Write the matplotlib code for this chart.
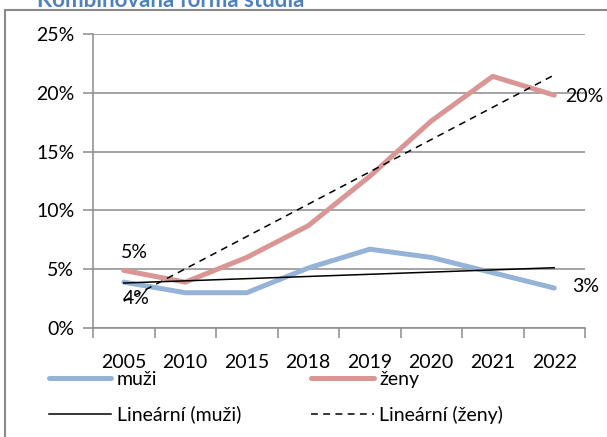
import matplotlib.pyplot as plt
import matplotlib.patches as mpatches
from matplotlib.ticker import FixedLocator, FuncFormatter
import numpy as np

plt.rcParams['font.family'] = ['Lato', 'DejaVu Sans']

# data (%)
years = ['2005', '2010', '2015', '2018', '2019', '2020', '2021', '2022']
muzi = [3.9, 3.0, 3.0, 5.1, 6.7, 6.0, 4.7, 3.4]
zeny = [4.9, 3.9, 6.0, 8.7, 12.9, 17.6, 21.4, 19.8]

BLUE = '#95b3d7'
RED = '#d99694'
GRID = '#8c8c8c'
FS = 14

fig = plt.figure(figsize=(6.07, 4.37), dpi=100, facecolor='white')
ax = fig.add_axes([93 / 607, 1 - 328 / 437, 492 / 607, 294 / 437])

x = np.arange(len(years))

# linear trends
pm = np.polyfit(x, muzi, 1)
pz = np.polyfit(x, zeny, 1)

l_m, = ax.plot(x, muzi, color=BLUE, lw=3.6, solid_capstyle='round',
               solid_joinstyle='round', label='muži', zorder=3)
l_z, = ax.plot(x, zeny, color=RED, lw=3.6, solid_capstyle='round',
               solid_joinstyle='round', label='ženy', zorder=3)
t_m, = ax.plot(x, np.polyval(pm, x), color='black', lw=1.1,
               label='Lineární (muži)', zorder=4)
t_z, = ax.plot(x, np.polyval(pz, x), color='black', lw=1.1, ls=(0, (4.5, 3.5)),
               label='Lineární (ženy)', zorder=4)

# data labels
lab = dict(fontsize=FS, color='black', textcoords='offset points', zorder=5)
ax.annotate('5%', (x[0], zeny[0]), xytext=(-2, 13), ha='left', va='center', **lab)
ax.annotate('4%', (x[0], muzi[0]), xytext=(-1, -11.5), ha='left', va='center', **lab)
ax.annotate('20%', (x[-1], zeny[-1]), xytext=(8, -1), ha='left', va='center', **lab)
ax.annotate('3%', (x[-1], muzi[-1]), xytext=(13, 1), ha='left', va='center', **lab)

ax.set_xlim(-0.5, len(years) - 0.5)
ax.set_ylim(0, 25)
ax.set_yticks(np.arange(0, 26, 5))
ax.yaxis.set_major_formatter(FuncFormatter(lambda v, _: f'{v:.0f}%'))
ax.grid(axis='y', color=GRID, lw=1.1)
ax.set_axisbelow(True)

ax.xaxis.set_major_locator(FixedLocator(np.arange(-0.5, len(years), 1.0)))
ax.xaxis.set_major_formatter(FuncFormatter(lambda v, _: ''))
ax.set_xticks(x, minor=True)
ax.set_xticklabels(years, minor=True)
ax.tick_params(axis='x', which='major', length=7, width=1.1, color=GRID, direction='out')
ax.tick_params(axis='x', which='minor', length=0, pad=18.5, labelsize=FS)
ax.tick_params(axis='y', length=7, width=1.1, color=GRID, pad=6.5, labelsize=FS)

for s in ['top', 'right']:
    ax.spines[s].set_visible(False)
for s in ['left', 'bottom']:
    ax.spines[s].set_color(GRID)
    ax.spines[s].set_linewidth(1.1)

fig.legend(handles=[l_m, t_m, l_z, t_z], ncol=2, loc='upper left',
           bbox_to_anchor=(49 / 607, 1 - 371 / 437), frameon=False,
           fontsize=FS, handlelength=3.2, handletextpad=0.3,
           columnspacing=3.6, labelspacing=0.9, borderpad=0, borderaxespad=0)

# outer frame and heading
fig.patches.append(mpatches.Rectangle((5 / 607, -0.2), 1.2, 1.2 - 10 / 437,
                                      transform=fig.transFigure, fill=False,
                                      edgecolor='#8a8a8a', lw=1.5))
fig.text(37 / 607, 1 - 7 / 437, 'Kombinovaná forma studia', fontsize=16,
         fontweight='bold', color='#4f81bd', ha='left', va='baseline')

fig.savefig('out.png', dpi=100, facecolor='white')
